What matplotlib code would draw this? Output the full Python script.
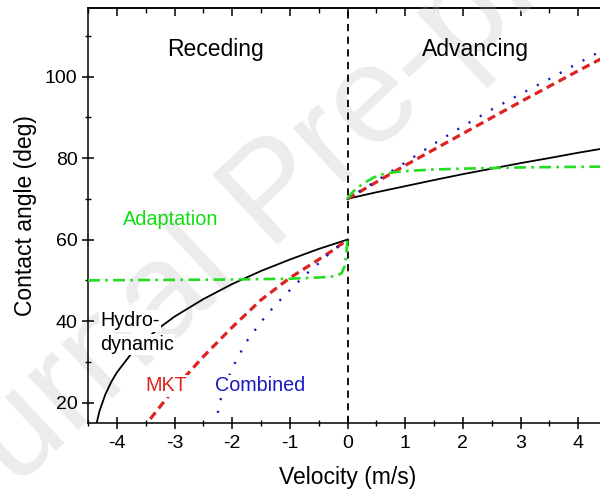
import matplotlib
matplotlib.use('Agg')
import matplotlib.pyplot as plt
from matplotlib.ticker import MultipleLocator

plt.rcParams['font.family'] = ['Liberation Sans', 'DejaVu Sans']
plt.rcParams['axes.unicode_minus'] = False

# values
# hydrodynamic model (black solid)
hydro_rec_v = [-4.35, -4.3, -4.2, -4.1, -4.0, -3.75, -3.5, -3.25, -3.0, -2.5, -2.0, -1.5, -1.0, -0.5, 0.0]
hydro_rec_y = [15.0, 18.0, 22.0, 25.0, 27.4, 32.0, 35.5, 38.5, 41.1, 45.4, 49.1, 52.3, 55.1, 57.7, 60.0]
hydro_adv_v = [0.0, 0.5, 1.0, 1.5, 2.0, 2.5, 3.0, 3.5, 4.0, 4.5]
hydro_adv_y = [70.0, 71.6, 73.1, 74.6, 76.05, 77.4, 78.75, 80.0, 81.3, 82.5]

# MKT (red dashed)
mkt_rec_v = [-3.42, -3.0, -2.5, -2.0, -1.5, -1.0, -0.5, -0.25, 0.0]
mkt_rec_y = [16.0, 23.5, 31.3, 38.5, 45.2, 50.6, 55.1, 57.4, 60.0]
mkt_adv_v = [0.0, 0.5, 1.0, 1.5, 2.0, 2.5, 3.0, 3.5, 4.0, 4.5]
mkt_adv_y = [70.0, 74.1, 78.2, 82.1, 86.0, 89.9, 93.8, 97.6, 101.4, 105.1]

# combined (blue dotted)
comb_rec_v = [-2.25, -2.22, -2.18, -2.0, -1.75, -1.5, -1.25, -1.0, -0.75, -0.5, -0.25, 0.0]
comb_rec_y = [17.5, 19.8, 21.8, 28.5, 35.0, 39.8, 44.0, 47.6, 51.1, 54.2, 57.4, 60.0]
comb_adv_v = [0.0, 0.5, 1.0, 1.5, 2.0, 2.5, 3.0, 3.5, 4.0, 4.5]
comb_adv_y = [70.0, 74.4, 78.9, 83.5, 87.8, 91.9, 95.7, 99.4, 103.3, 107.0]

# adaptation (green dash-dot)
adapt_rec_v = [-4.5, -2.0, -1.0, -0.5, -0.2, -0.1, -0.05, -0.02, 0.0]
adapt_rec_y = [50.0, 50.2, 50.4, 50.7, 51.0, 51.8, 53.5, 56.5, 60.0]
adapt_adv_v = [0.0, 0.05, 0.1, 0.2, 0.3, 0.45, 0.6, 0.8, 1.0, 1.5, 2.0, 3.0, 4.5]
adapt_adv_y = [70.0, 71.0, 71.8, 73.0, 74.0, 75.2, 76.0, 76.5, 76.8, 77.2, 77.4, 77.7, 77.9]

black = 'black'
red = '#dd2222'
blue = '#1a1ac0'
green = '#22dd22'

fig = plt.figure(figsize=(6, 4.92), dpi=100)
ax = fig.add_axes([0.1467, 0.1402, 0.865, 0.8435])

ax.axvline(0, color='black', lw=1.3, linestyle=(0, (4, 3)), zorder=2)

ax.plot(hydro_rec_v, hydro_rec_y, color=black, lw=1.3, zorder=3)
ax.plot(hydro_adv_v, hydro_adv_y, color=black, lw=1.3, zorder=3)
ax.plot(mkt_rec_v, mkt_rec_y, color=red, lw=2.3, linestyle=(0, (2.6, 1.6)), zorder=3)
ax.plot(mkt_adv_v, mkt_adv_y, color=red, lw=2.3, linestyle=(0, (2.6, 1.6)), zorder=3)
ax.plot(comb_rec_v, comb_rec_y, color=blue, lw=1.7, linestyle=(0, (0.9, 4.6)), zorder=3)
ax.plot(comb_adv_v, comb_adv_y, color=blue, lw=1.7, linestyle=(0, (0.9, 4.6)), zorder=3)
ax.plot(adapt_rec_v, adapt_rec_y, color=green, lw=1.9, linestyle=(0, (4.5, 2, 1, 2)), zorder=3)
ax.plot(adapt_adv_v, adapt_adv_y, color=green, lw=1.9, linestyle=(0, (4.5, 2, 1, 2)), zorder=3)

ax.set_xlim(-4.5, 4.5)
ax.set_ylim(15, 116.8)
ax.xaxis.set_major_locator(MultipleLocator(1))
ax.xaxis.set_minor_locator(MultipleLocator(0.5))
ax.yaxis.set_major_locator(MultipleLocator(20))
ax.yaxis.set_minor_locator(MultipleLocator(10))
ax.tick_params(which='major', direction='inout', length=9, width=1.1, labelsize=14, pad=3)
ax.tick_params(which='minor', direction='inout', length=5, width=1.0)
ax.tick_params(axis='x', which='major', pad=4)

top = ax.secondary_xaxis('top')
top.xaxis.set_major_locator(MultipleLocator(1))
top.xaxis.set_minor_locator(MultipleLocator(0.5))
top.tick_params(which='major', direction='in', length=6, width=1.1, labeltop=False)
top.tick_params(which='minor', direction='in', length=3.5, width=1.0)
top.spines['top'].set_linewidth(1.1)

for s in ax.spines.values():
    s.set_linewidth(1.1)

ax.set_xlabel('Velocity (m/s)', fontsize=16.5, labelpad=10)
ax.set_ylabel('Contact angle (deg)', fontsize=16.5, labelpad=6)

ax.text(-2.29, 105.1, 'Receding', fontsize=16.5, ha='center', va='baseline')
ax.text(2.22, 105.1, 'Advancing', fontsize=16.5, ha='center', va='baseline')
ax.text(-3.06, 63.5, 'Adaptation', fontsize=14.3, color='#11dd11', ha='center', va='baseline')
wbox = dict(facecolor='white', edgecolor='none', pad=1)
ax.text(-4.29, 38.7, 'Hydro-', fontsize=14.2, ha='left', va='baseline', bbox=wbox, zorder=4)
ax.text(-4.29, 32.9, 'dynamic', fontsize=14.2, ha='left', va='baseline', bbox=wbox, zorder=4)
ax.text(-3.15, 22.8, 'MKT', fontsize=14.2, color=red, ha='center', va='baseline', bbox=wbox, zorder=4)
ax.text(-2.30, 22.8, 'Combined', fontsize=14.2, color=blue, ha='left', va='baseline', bbox=wbox, zorder=4)

# watermark of the source page
ax.text(0.46, 0.60, 'Journal Pre-proof', transform=fig.transFigure, fontsize=100,
        color='#ececec', rotation=43, ha='center', va='center', rotation_mode='anchor',
        clip_on=False, zorder=1)

fig.savefig('out.png', dpi=100)
